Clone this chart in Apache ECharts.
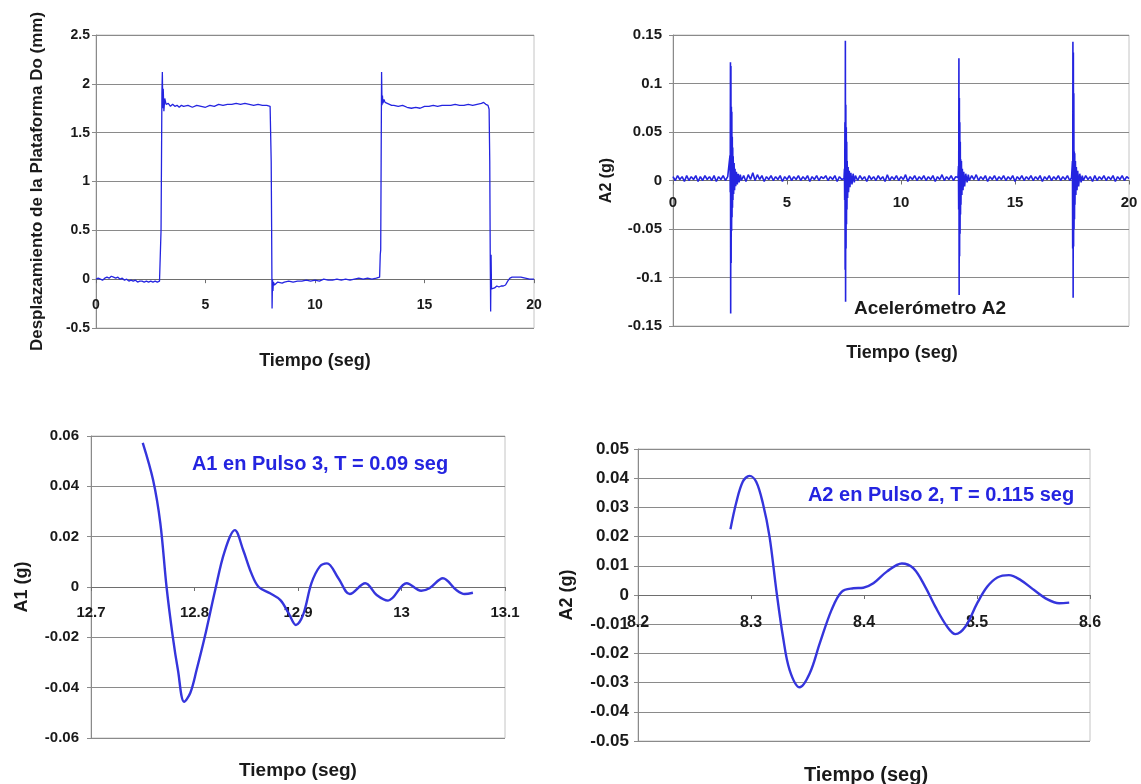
<!DOCTYPE html>
<html>
<head>
<meta charset="utf-8">
<script src="https://cdn.jsdelivr.net/npm/echarts@6/dist/echarts.min.js"></script>
<style>
  html, body { margin: 0; padding: 0; background: #ffffff; }
  #c { width: 1141px; height: 784px; }
</style>
</head>
<body>
<div id="c"></div>
<script>
// Desplazamiento de la plataforma Do (mm) vs tiempo (s)
const desplazamiento = [
  [0,0.00],[0.1,0.01],[0.2,0.00],[0.3,-0.01],[0.4,0.01],[0.5,0.02],[0.6,0.01],[0.7,0.03],[0.8,0.02],[0.9,0.01],
  [1.0,0.02],[1.1,0.00],[1.2,0.01],[1.3,-0.01],[1.4,0.00],[1.5,-0.02],[1.6,-0.01],[1.7,-0.02],[1.8,-0.01],[1.9,-0.03],
  [2.0,-0.02],[2.1,-0.02],[2.2,-0.03],[2.3,-0.02],[2.4,-0.03],[2.5,-0.02],[2.6,-0.03],[2.7,-0.02],[2.8,-0.03],[2.9,-0.02],
  [2.95,0.0],[2.97,0.5],[2.99,1.2],[3.01,1.9],[3.03,2.12],[3.05,1.75],[3.07,1.95],[3.1,1.72],[3.14,1.85],[3.2,1.79],
  [3.3,1.80],[3.4,1.77],[3.5,1.79],[3.6,1.77],[3.7,1.78],[3.8,1.76],[3.9,1.78],[4.0,1.77],[4.2,1.78],[4.4,1.76],
  [4.6,1.78],[4.8,1.77],[5.0,1.76],[5.2,1.78],[5.4,1.77],[5.6,1.79],[5.8,1.78],[6.0,1.79],[6.2,1.79],[6.4,1.80],
  [6.6,1.79],[6.8,1.80],[7.0,1.79],[7.2,1.78],[7.4,1.79],[7.6,1.78],[7.8,1.78],[7.95,1.77],
  [8.0,1.2],[8.02,0.5],[8.04,-0.3],[8.06,0.0],[8.08,-0.12],[8.1,-0.03],[8.15,-0.06],[8.3,-0.03],[8.5,-0.04],
  [8.6,-0.03],[8.8,-0.02],[9.0,-0.03],[9.2,-0.02],[9.4,-0.02],[9.6,-0.01],[9.8,-0.02],[10.0,-0.01],[10.2,-0.02],[10.4,0.0],
  [10.6,-0.01],[10.8,-0.01],[11.0,0.0],[11.2,-0.01],[11.4,0.0],[11.6,-0.01],[11.8,0.0],[12.0,0.01],[12.2,0.0],[12.4,0.01],
  [12.6,0.0],[12.8,0.01],[12.95,0.02],[12.98,0.25],[13.0,0.3],[13.02,1.2],[13.04,2.12],[13.06,1.78],[13.08,1.88],[13.1,1.80],
  [13.15,1.84],[13.2,1.81],[13.3,1.80],[13.4,1.79],[13.5,1.78],[13.6,1.78],[13.8,1.77],[14.0,1.78],[14.2,1.76],[14.4,1.75],
  [14.6,1.76],[14.8,1.75],[15.0,1.77],[15.2,1.77],[15.4,1.78],[15.6,1.77],[15.8,1.78],[16.0,1.78],[16.2,1.78],[16.4,1.79],
  [16.6,1.78],[16.8,1.78],[17.0,1.79],[17.2,1.78],[17.4,1.79],[17.6,1.80],[17.7,1.81],[17.8,1.79],[17.9,1.78],[17.95,1.74],
  [17.98,1.2],[18.0,0.3],[18.02,-0.33],[18.04,0.25],[18.06,-0.1],[18.1,-0.08],[18.2,-0.09],[18.3,-0.07],[18.4,-0.08],[18.5,-0.07],
  [18.6,-0.07],[18.7,-0.06],[18.8,-0.02],[18.9,0.01],[19.0,0.02],[19.2,0.02],[19.4,0.02],[19.6,0.01],[19.8,0.0],[20.0,0.0]
];

// Acelerómetro A2 (g) vs tiempo (s), registro completo
const acelerometroA2 = [
  [0.0,0.004],[0.1,0.000],[0.2,0.005],[0.3,0.001],[0.4,0.004],[0.5,-0.001],[0.6,0.005],[0.7,0.000],[0.8,0.004],[0.9,0.001],
  [1.0,0.005],[1.1,-0.001],[1.2,0.004],[1.3,0.000],[1.4,0.005],[1.5,0.001],[1.6,0.004],[1.7,0.000],[1.8,0.005],[1.9,-0.001],
  [2.0,0.004],[2.1,0.001],[2.2,0.005],[2.3,0.000],[2.4,0.004],[2.48,0.002],
  [2.50,0.026],[2.51,-0.012],[2.52,0.122],[2.53,-0.137],[2.54,0.118],[2.55,-0.085],[2.56,0.076],[2.57,-0.052],[2.58,0.071],[2.59,-0.038],
  [2.60,0.045],[2.61,-0.028],[2.62,0.034],[2.63,-0.020],[2.64,0.025],[2.66,-0.014],[2.68,0.018],[2.70,-0.010],[2.72,0.012],[2.75,-0.006],
  [2.78,0.009],[2.82,-0.004],[2.86,0.007],[2.90,-0.002],[2.95,0.006],
  [3.0,0.000],[3.1,0.005],[3.2,-0.001],[3.3,0.006],[3.4,0.001],[3.5,0.008],[3.6,0.000],[3.7,0.006],[3.8,0.001],[3.9,0.005],
  [4.0,-0.001],[4.1,0.004],[4.2,0.001],[4.3,0.005],[4.4,0.000],[4.5,0.004],[4.6,0.001],[4.7,0.005],[4.8,-0.001],[4.9,0.004],
  [5.0,0.001],[5.1,0.005],[5.2,0.000],[5.3,0.004],[5.4,0.001],[5.5,0.005],[5.6,0.000],[5.7,0.004],[5.8,0.001],[5.9,0.005],
  [6.0,-0.001],[6.1,0.004],[6.2,0.001],[6.3,0.005],[6.4,0.000],[6.5,0.004],[6.6,0.002],[6.7,0.005],[6.8,0.000],[6.9,0.004],
  [7.0,0.001],[7.1,0.005],[7.2,-0.001],[7.3,0.004],[7.4,0.001],[7.48,0.003],
  [7.50,0.002],[7.52,0.012],[7.53,-0.020],[7.54,0.060],[7.55,-0.092],[7.56,0.144],[7.57,-0.125],[7.58,0.078],[7.59,-0.070],[7.60,0.055],
  [7.61,-0.045],[7.62,0.040],[7.63,-0.030],[7.64,0.020],[7.66,-0.018],[7.68,0.014],[7.70,-0.012],[7.73,0.010],[7.76,-0.007],[7.80,0.008],
  [7.85,-0.004],[7.90,0.007],[7.95,-0.002],[8.0,0.005],
  [8.1,0.000],[8.2,0.005],[8.3,0.001],[8.4,0.004],[8.5,-0.001],[8.6,0.005],[8.7,0.001],[8.8,0.004],[8.9,0.000],[9.0,0.005],
  [9.1,0.001],[9.2,0.004],[9.3,-0.001],[9.4,0.006],[9.5,0.000],[9.6,0.004],[9.7,0.001],[9.8,0.005],[9.9,0.000],[10.0,0.004],
  [10.1,0.001],[10.2,0.006],[10.3,-0.001],[10.4,0.004],[10.5,0.001],[10.6,0.005],[10.7,0.000],[10.8,0.004],[10.9,0.001],[11.0,0.005],
  [11.1,0.000],[11.2,0.004],[11.3,0.001],[11.4,0.005],[11.5,-0.001],[11.6,0.004],[11.7,0.001],[11.8,0.006],[11.9,0.000],[12.0,0.004],
  [12.1,0.001],[12.2,0.005],[12.3,0.000],[12.4,0.004],[12.48,0.002],
  [12.50,0.003],[12.52,0.015],[12.53,-0.030],[12.54,0.126],[12.55,-0.118],[12.56,0.085],[12.57,-0.078],[12.58,0.060],[12.59,-0.055],[12.60,0.040],
  [12.61,-0.035],[12.62,0.022],[12.63,-0.025],[12.65,0.020],[12.67,-0.015],[12.69,0.012],[12.72,-0.010],[12.75,0.009],[12.79,-0.006],[12.84,0.007],
  [12.90,-0.002],[12.95,0.006],
  [13.0,0.000],[13.1,0.005],[13.2,0.001],[13.3,0.006],[13.4,0.000],[13.5,0.004],[13.6,0.001],[13.7,0.005],[13.8,-0.001],[13.9,0.004],
  [14.0,0.001],[14.1,0.005],[14.2,0.000],[14.3,0.004],[14.4,0.001],[14.5,0.005],[14.6,0.000],[14.7,0.004],[14.8,0.001],[14.9,0.005],
  [15.0,-0.001],[15.1,0.004],[15.2,0.001],[15.3,0.005],[15.4,0.000],[15.5,0.004],[15.6,0.001],[15.7,0.005],[15.8,0.000],[15.9,0.004],
  [16.0,0.001],[16.1,0.005],[16.2,-0.001],[16.3,0.004],[16.4,0.001],[16.5,0.005],[16.6,0.000],[16.7,0.004],[16.8,0.001],[16.9,0.005],
  [17.0,0.000],[17.1,0.004],[17.2,0.001],[17.3,0.005],[17.4,0.000],[17.48,0.003],
  [17.50,0.003],[17.52,0.020],[17.53,-0.070],[17.54,0.143],[17.55,-0.121],[17.56,0.132],[17.57,-0.068],[17.58,0.090],[17.59,-0.050],[17.60,0.030],
  [17.61,-0.040],[17.62,0.028],[17.63,-0.025],[17.65,0.020],[17.67,-0.015],[17.69,0.014],[17.72,-0.010],[17.75,0.010],[17.79,-0.006],[17.84,0.007],
  [17.90,-0.002],[17.95,0.005],
  [18.0,0.000],[18.1,0.005],[18.2,0.001],[18.3,0.004],[18.4,-0.001],[18.5,0.005],[18.6,0.000],[18.7,0.004],[18.8,0.001],[18.9,0.005],
  [19.0,0.000],[19.1,0.004],[19.2,0.001],[19.3,0.005],[19.4,-0.001],[19.5,0.004],[19.6,0.001],[19.7,0.005],[19.8,0.000],[19.9,0.004],[20.0,0.002]
];

// A1 en el pulso 3 (g) vs tiempo (s)
const a1Pulso3 = [
  [12.750,0.0573],[12.760,0.0425],[12.767,0.0253],[12.773,0.0],[12.779,-0.0197],[12.784,-0.033],[12.790,-0.0456],[12.796,-0.042],
  [12.802,-0.033],[12.810,-0.0197],[12.820,-0.0012],[12.829,0.014],[12.839,0.0226],[12.847,0.0147],[12.855,0.0054],[12.862,0.0],
  [12.873,-0.0025],[12.883,-0.0052],[12.891,-0.0105],[12.898,-0.0151],[12.905,-0.011],[12.913,0.0015],[12.921,0.0081],[12.928,0.0094],
  [12.939,0.0035],[12.950,-0.0028],[12.965,0.0015],[12.976,-0.0032],[12.987,-0.0054],[13.005,0.0015],[13.019,-0.0015],[13.027,-0.0005],
  [13.040,0.0035],[13.053,-0.0012],[13.061,-0.0028],[13.069,-0.0023]
];

// A2 en el pulso 2 (g) vs tiempo (s)
const a2Pulso2 = [
  [8.2818,0.0225],[8.2868,0.0314],[8.2927,0.0388],[8.2987,0.0408],[8.3046,0.0388],[8.3105,0.0314],[8.3164,0.0200],[8.3224,0.0017],
  [8.3283,-0.0143],[8.3342,-0.0257],[8.3431,-0.0316],[8.3520,-0.0268],[8.3609,-0.0165],[8.3713,-0.0051],[8.3802,0.0011],[8.3905,0.0023],
  [8.3994,0.0025],[8.4083,0.0040],[8.4202,0.0080],[8.4335,0.0108],[8.4438,0.0091],[8.4542,0.0028],[8.4631,-0.0040],[8.4735,-0.0108],
  [8.4809,-0.0134],[8.4898,-0.0108],[8.5002,-0.0028],[8.5090,0.0028],[8.5180,0.0060],[8.5283,0.0068],[8.5387,0.0051],[8.5505,0.0017],
  [8.5624,-0.0015],[8.5727,-0.0028],[8.5816,-0.0026]
];

// Rangos y pasos de los ejes
const ejeX = [
  { min: 0, max: 20, interval: 5 },
  { min: 0, max: 20, interval: 5 },
  { min: 12.7, max: 13.1, interval: 0.1 },
  { min: 8.2, max: 8.6, interval: 0.1 }
];
const ejeY = [
  { min: -0.5, max: 2.5, interval: 0.5 },
  { min: -0.15, max: 0.15, interval: 0.05 },
  { min: -0.06, max: 0.06, interval: 0.02 },
  { min: -0.05, max: 0.05, interval: 0.01 }
];
const titulosY = ['Desplazamiento de la Plataforma Do (mm)', 'A2 (g)', 'A1 (g)', 'A2 (g)'];

const FONT = '"Liberation Sans", Arial, sans-serif';
const INK = '#1a1a1a';
const GRID_GRAY = '#8a8a8a';
const BLUE = '#2424e0';

const gridBoxes = [
  { left: 96, top: 35, width: 438, height: 293 },
  { left: 673, top: 35, width: 456, height: 291 },
  { left: 91, top: 436, width: 414, height: 302 },
  { left: 638, top: 449, width: 452, height: 292 }
];
const grids = gridBoxes.map(g => Object.assign({ show: true, borderColor: '#c4c4c4', borderWidth: 1, backgroundColor: 'transparent' }, g));

const xLabelMargin = [19, 15, 18, 20];
const xLabelSize = [14, 15, 15, 16];
const yLabelSize = [14, 15, 15, 17];
const yLabelMargin = [6, 11, 12, 9];
const yNameGap = [50, 58, 60, 62];
const yNameSize = [17, 16, 18, 18];

const xAxes = ejeX.map((e, i) => ({
  type: 'value', gridIndex: i, min: e.min, max: e.max, interval: e.interval,
  axisLine: { onZero: false, lineStyle: { color: '#6e6e6e', width: 1 } },
  axisTick: { show: true, length: 4, lineStyle: { color: '#6e6e6e' } },
  axisLabel: { color: INK, fontFamily: FONT, fontWeight: 'bold', fontSize: xLabelSize[i], margin: xLabelMargin[i] },
  splitLine: { show: false }
}));

const yAxes = ejeY.map((e, i) => ({
  type: 'value', gridIndex: i, min: e.min, max: e.max, interval: e.interval,
  name: titulosY[i], nameLocation: 'middle', nameGap: yNameGap[i], nameRotate: 90,
  nameTextStyle: { color: INK, fontFamily: FONT, fontWeight: 'bold', fontSize: yNameSize[i] },
  axisLine: { show: true, onZero: false, lineStyle: { color: '#8a8a8a', width: 1 } },
  axisTick: { show: true, length: 4, lineStyle: { color: '#8a8a8a' } },
  axisLabel: { color: INK, fontFamily: FONT, fontWeight: 'bold', fontSize: yLabelSize[i], margin: yLabelMargin[i] },
  splitLine: { show: true, lineStyle: { color: GRID_GRAY, width: 1 } }
}));

function texto(x, y, s, size, color) {
  return {
    type: 'text', x: x, y: y, silent: true,
    style: { text: s, fill: color, font: 'bold ' + size + 'px ' + FONT, textAlign: 'center', textVerticalAlign: 'middle' }
  };
}

const chart = echarts.init(document.getElementById('c'), null, { renderer: 'canvas' });
chart.setOption({
  animation: false,
  backgroundColor: '#ffffff',
  grid: grids,
  xAxis: xAxes,
  yAxis: yAxes,
  series: [
    { type: 'line', xAxisIndex: 0, yAxisIndex: 0, data: desplazamiento, showSymbol: false, smooth: false,
      lineStyle: { color: BLUE, width: 1.3 }, z: 3 },
    { type: 'line', xAxisIndex: 1, yAxisIndex: 1, data: acelerometroA2, showSymbol: false, smooth: false,
      lineStyle: { color: BLUE, width: 1.6 }, z: 3 },
    { type: 'line', xAxisIndex: 2, yAxisIndex: 2, data: a1Pulso3, showSymbol: false, smooth: 0.35,
      lineStyle: { color: '#3535dc', width: 2.4 }, z: 3 },
    { type: 'line', xAxisIndex: 3, yAxisIndex: 3, data: a2Pulso2, showSymbol: false, smooth: 0.35,
      lineStyle: { color: '#3535dc', width: 2.4 }, z: 3 }
  ],
  graphic: [
    texto(315, 361, 'Tiempo (seg)', 18, INK),
    texto(902, 353, 'Tiempo (seg)', 18, INK),
    texto(930, 309, 'Acelerómetro A2', 19, INK),
    texto(320, 464, 'A1 en Pulso 3, T = 0.09 seg', 20, BLUE),
    texto(298, 771, 'Tiempo (seg)', 19, INK),
    texto(941, 495, 'A2 en Pulso 2, T = 0.115 seg', 20, BLUE),
    texto(866, 775, 'Tiempo (seg)', 20, INK)
  ]
});

// Each time axis crosses its value axis at zero: shift it from the plot's lower edge to y = 0
chart.setOption({
  xAxis: ejeX.map((e, i) => {
    const y0 = chart.convertToPixel({ xAxisIndex: i, yAxisIndex: i }, [e.min, 0])[1];
    return { offset: y0 - (gridBoxes[i].top + gridBoxes[i].height) };
  })
});
</script>
</body>
</html>
